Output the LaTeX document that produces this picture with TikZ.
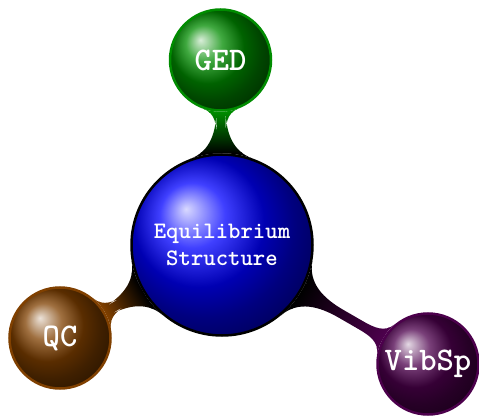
\documentclass[tikz,border=0pt]{standalone}
\usetikzlibrary{mindmap,backgrounds,shadings}
\colorlet{gedcol}{green!55!black}
\colorlet{qccol}{orange!50!black}
\colorlet{vibcol}{violet!60!black}
\tikzset{
  ball/.style={circle, inner sep=0pt, line width=2.5pt, text=white,
    font=\ttfamily\bfseries, align=center},
  childball/.style={ball, minimum size=101pt, font=\fontsize{33}{38}\selectfont\ttfamily\bfseries},
}
\begin{document}
\begin{tikzpicture}[x=1pt,y=1pt]
\useasboundingbox (0,0) rectangle (479,418);
\node[ball, draw=black, ball color=blue, minimum size=181pt,
  font=\fontsize{23.6}{27}\selectfont\ttfamily\bfseries] (eq) at (222,173) {Equilibrium\\Structure};
\node[childball, draw=gedcol, ball color=gedcol] (ged) at (220.5,358) {GED};
\node[childball, draw=qccol, ball color=qccol] (qc) at (60,80) {QC};
\node[childball, draw=vibcol, ball color=vibcol] (vib) at (428,54) {VibSp};
\begin{pgfonlayer}{background}
\path (eq) to[circle connection bar switch color=from (black) to (gedcol)] (ged);
\path (eq) to[circle connection bar switch color=from (black) to (qccol)] (qc);
\path (eq) to[circle connection bar switch color=from (black) to (vibcol)] (vib);
\end{pgfonlayer}
\end{tikzpicture}
\end{document}
